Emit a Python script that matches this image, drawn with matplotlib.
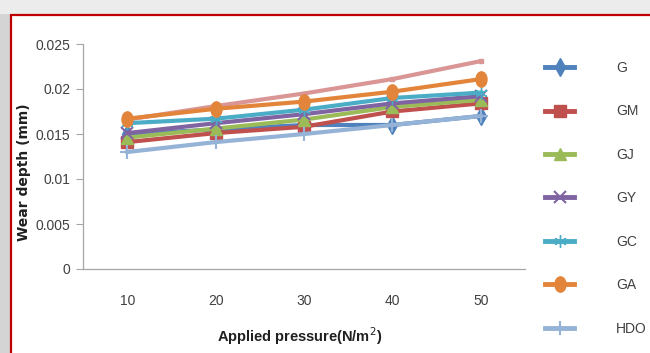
import matplotlib.pyplot as plt
import numpy as np
from matplotlib.patches import Rectangle
from matplotlib.path import Path

pressure = ['10', '20', '30', '40', '50']

series_names = ['G', 'GM', 'GJ', 'GY', 'GC', 'GA', 'HDO']
g = [0.0150, 0.0155, 0.0160, 0.0160, 0.0170]
gm = [0.0141, 0.0151, 0.0158, 0.0175, 0.0184]
gj = [0.0146, 0.0156, 0.0166, 0.0180, 0.0188]
gy = [0.0151, 0.0162, 0.0172, 0.0184, 0.0192]
gc = [0.0162, 0.0167, 0.0177, 0.0190, 0.0196]
ga = [0.0167, 0.0178, 0.0186, 0.0197, 0.0211]
hdo = [0.0130, 0.0141, 0.0150, 0.0160, 0.0170]
# extra series plotted without a legend entry
unlabelled = [0.0166, 0.0181, 0.0195, 0.0211, 0.0231]

colors = ['#4F81BD', '#C0504D', '#9BBB59', '#8064A2', '#4BACC6', '#E2853A', '#95B3D7']
pink = '#D99694'

# tall ellipse marker for GA
circ = Path.unit_circle()
ellipse = Path(circ.vertices * np.array([0.72, 1.0]), circ.codes)
markers = ['d', 's', '^', 'x', (6, 2, 0), ellipse, '+']
msizes = [9, 8, 8, 8, 9, 11, 10]

tickfont = ['Liberation Sans', 'DejaVu Sans']

fig = plt.figure(figsize=(6.5, 3.53), dpi=100)

# window-like frame round the chart
fig.patches.append(Rectangle((0, 0), 1, 1, transform=fig.transFigure,
                             facecolor='#D4D4D4', edgecolor='none', zorder=-3))
fig.patches.append(Rectangle((0, 1 - 14 / 353), 1, 14 / 353, transform=fig.transFigure,
                             facecolor='#ECECEC', edgecolor='none', zorder=-2))
fig.patches.append(Rectangle((11 / 650, -0.1), 1.2, 1.1 - 15 / 353, transform=fig.transFigure,
                             facecolor='white', edgecolor='#C00000', linewidth=1.6, zorder=-1))

ax = fig.add_axes([83 / 650, 1 - 269 / 353, 442 / 650, 225 / 353])
ax.set_facecolor('none')
x = np.arange(len(pressure))

ax.plot(x, unlabelled, color=pink, linewidth=3.0, solid_capstyle='butt',
        marker='s', markersize=3, zorder=2)

data = [g, gm, gj, gy, gc, ga, hdo]
handles = []
for i, (name, vals) in enumerate(zip(series_names, data)):
    (ln,) = ax.plot(x, vals, color=colors[i], linewidth=3.0, marker=markers[i],
                    markersize=msizes[i], markeredgewidth=1.5 if markers[i] in ('x', '+') else 1.0,
                    markeredgecolor=colors[i], label=name, zorder=3 + i)
    handles.append(ln)

ax.set_xlim(-0.5, len(pressure) - 0.5)
ax.set_ylim(0, 0.025)
ax.set_xticks(x)
ax.set_xticklabels(pressure)
ax.set_yticks([0, 0.005, 0.01, 0.015, 0.02, 0.025])
ax.set_yticklabels(['0', '0.005', '0.01', '0.015', '0.02', '0.025'])

for s in ['top', 'right']:
    ax.spines[s].set_visible(False)
for s in ['left', 'bottom']:
    ax.spines[s].set_color('#A6A6A6')
    ax.spines[s].set_linewidth(0.9)

ax.tick_params(axis='x', length=0, pad=18, labelsize=10, labelcolor='#404040')
ax.tick_params(axis='y', length=5, width=0.8, color='#A6A6A6', pad=4,
               labelsize=10, labelcolor='#404040')
for lab in ax.get_xticklabels() + ax.get_yticklabels():
    lab.set_family(tickfont)

ax.set_xlabel('Applied pressure(N/m$^2$)', fontsize=10.5, fontweight='bold',
              family=tickfont, color='#202020')
ax.xaxis.set_label_coords(0.49, -0.25)
ax.set_ylabel('Wear depth (mm)', fontsize=10, fontweight='bold', color='#202020')
ax.yaxis.set_label_coords(-0.118, 0.43)

leg = fig.legend(handles=handles, loc='upper left', bbox_to_anchor=(545 / 650, 1 - 61 / 353),
                 frameon=False, handlelength=2.1, handletextpad=3.0, labelspacing=2.12,
                 prop={'family': tickfont, 'size': 10}, markerscale=1.0,
                 borderpad=0, borderaxespad=0)
for t in leg.get_texts():
    t.set_color('#404040')
for h in leg.legend_handles:
    h.set_linewidth(3.5)

fig.savefig('out.png', dpi=100)
